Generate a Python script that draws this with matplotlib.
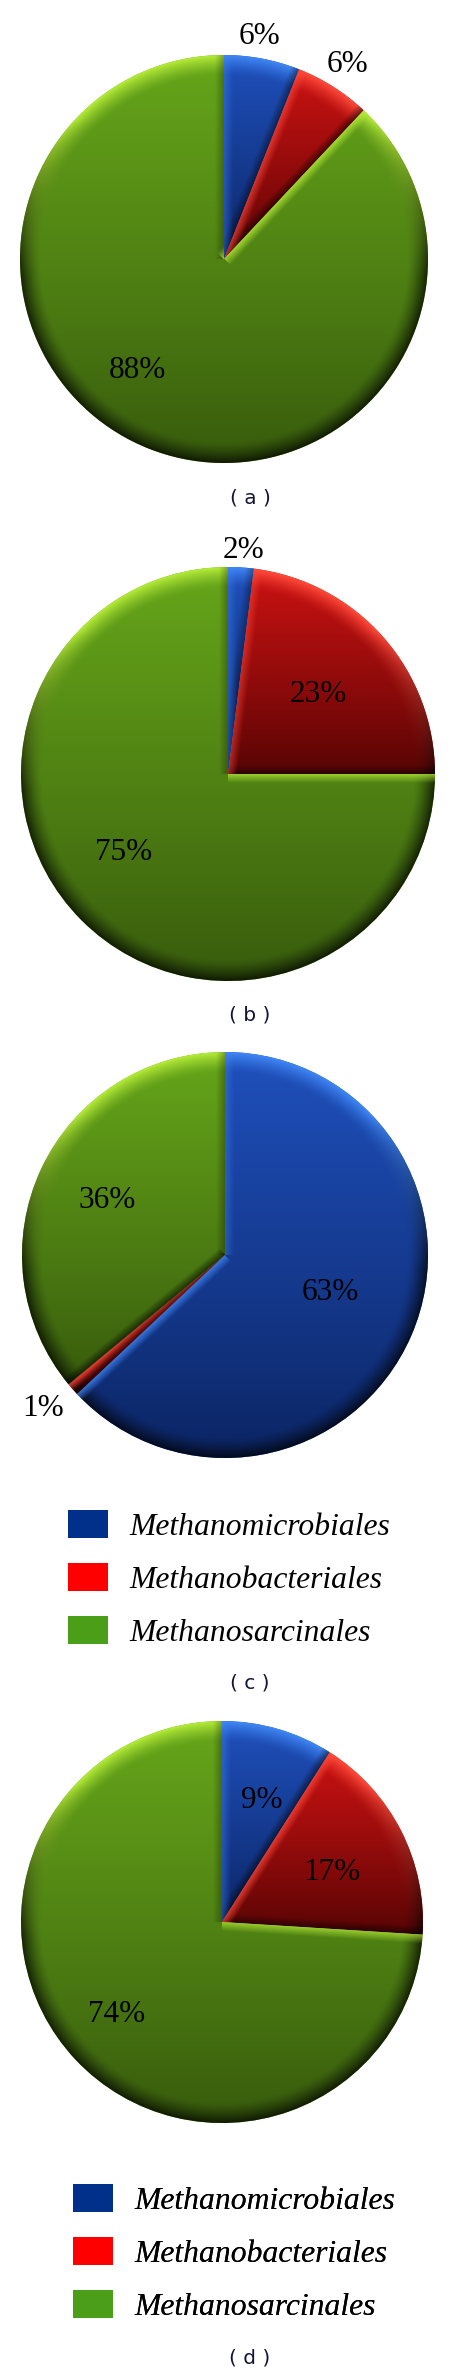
"""메탄생성균 목(order) 비율 파이 4개 (a)-(d) + 범례 — 3D 느낌 음영 포함."""

import numpy as np
import matplotlib

matplotlib.use("Agg")
import matplotlib.pyplot as plt
from matplotlib.colors import to_rgb
from matplotlib.patches import Patch

W, H = 457, 2374
DPI = 100

ORDERS = ["Methanomicrobiales", "Methanobacteriales", "Methanosarcinales"]
PANELS = ["a", "b", "c", "d"]
SHARE_A = [6, 6, 88]
SHARE_B = [2, 23, 75]
SHARE_C = [63, 1, 36]
SHARE_D = [9, 17, 74]
SHARES = [SHARE_A, SHARE_B, SHARE_C, SHARE_D]

# 쐐기 색: 위(밝음) / 아래(어두움) / 하이라이트
LIGHT = ["#1f50bc", "#cc1212", "#66a61a"]
DARK = ["#0b2462", "#560404", "#375a0c"]
RIM = ["#3f86f4", "#ff4a3a", "#b4ea38"]
LEGEND_COL = ["#00308a", "#ff0000", "#4a9e18"]

SERIF = "Liberation Serif"
LIGHT_DIR = np.array([0.5, -0.866])   # 모서리 빛 방향 (안쪽 법선과 내적)

# 배치 (픽셀, 위에서부터 잰 값)
LAYOUT = {
    "a": dict(center=(224, 259), r=204, labels=[(260, 37), (348, 64), (137, 370)],
              cap=(250, 498), legend=None),
    "b": dict(center=(228, 774), r=207, labels=[(243, 550), (318, 695), (124, 853)],
              cap=(250, 1015), legend=None),
    "c": dict(center=(225, 1255), r=203, labels=[(330, 1292), (43, 1408), (107, 1201)],
              cap=(250, 1683), legend=(68, 1579)),
    "d": dict(center=(222, 1922), r=201, labels=[(262, 1800), (332, 1873), (117, 2015)],
              cap=(250, 2358), legend=(73, 2253)),
}


def _shade(wedge, r, light, dark, rim, n=420, bevel=9.0):
    """쐐기 하나의 음영 이미지 (쐐기 높이 기준 세로 그라데이션 + 테두리/모서리 베벨)."""
    u = np.linspace(-r, r, n)
    X, Y = np.meshgrid(u, u)          # 중심 기준 좌표, origin="lower"
    rho = np.hypot(X, Y) / r
    L, D, R = (np.array(to_rgb(c)) for c in (light, dark, rim))

    th = np.radians(np.linspace(wedge.theta1, wedge.theta2, 200))
    ys = np.concatenate([[0.0], r * np.sin(th)])
    y0, y1 = ys.min(), ys.max()
    t = np.clip((Y - y0) / max(y1 - y0, 1e-6), 0, 1) ** 0.9
    img = D + (L - D) * t[..., None]

    # 바깥 둘레: 위쪽은 밝게, 아래쪽은 어둡게
    s = np.clip((rho - 0.9) / 0.1, 0, 1) ** 1.4
    up = np.clip(Y / r * 1.3 + 0.1, 0, 1)
    hi = (s * up)[..., None]
    img = img * (1 - hi) + R * hi
    lo = (s * (1 - up) * 0.7)[..., None]
    img = img * (1 - lo)

    # 반지름 모서리 베벨
    a1, a2 = np.radians(wedge.theta1), np.radians(wedge.theta2)
    edges = [(np.array([np.cos(a1), np.sin(a1)]), np.array([-np.sin(a1), np.cos(a1)])),
             (np.array([np.cos(a2), np.sin(a2)]), np.array([np.sin(a2), -np.cos(a2)]))]
    for dvec, nvec in edges:
        d = X * nvec[0] + Y * nvec[1]
        along = X * dvec[0] + Y * dvec[1]
        b = np.clip(1 - np.abs(d) / bevel, 0, 1) * (along > 0)
        k = float(nvec @ LIGHT_DIR)
        if k > 0:
            m = (b * k * 0.85)[..., None]
            img = img * (1 - m) + R * m
        else:
            m = (b * -k * 0.6)[..., None]
            img = img * (1 - m)
    return np.clip(img, 0, 1)


def main() -> None:
    fig = plt.figure(figsize=(W / DPI, H / DPI), dpi=DPI)
    ax = fig.add_axes([0, 0, 1, 1])

    for key, vals in zip(PANELS, SHARES):
        lay = LAYOUT[key]
        cx, cy = lay["center"][0], H - lay["center"][1]
        r = lay["r"]
        wedges, _ = ax.pie(vals, center=(cx, cy), radius=r, startangle=90,
                           counterclock=False, colors=LIGHT, frame=True,
                           wedgeprops=dict(linewidth=0))
        for w, lc, dc, rc in zip(wedges, LIGHT, DARK, RIM):
            im = ax.imshow(_shade(w, r, lc, dc, rc), extent=(cx - r, cx + r, cy - r, cy + r),
                           origin="lower", interpolation="bilinear", zorder=2)
            im.set_clip_path(w)

        for v, (px, py) in zip(vals, lay["labels"]):
            ax.text(px, H - py, f"{v}%", ha="center", va="center",
                    fontsize=22.5, family=SERIF, zorder=5)

        ax.text(lay["cap"][0], H - lay["cap"][1], f"( {key} )", ha="center", va="center",
                fontsize=14.5, color="#14143a", zorder=5)

        if lay["legend"] is not None:
            lx, ly = lay["legend"]
            handles = [Patch(facecolor=c, edgecolor="none") for c in LEGEND_COL]
            leg = ax.legend(handles, ORDERS, loc="center left",
                            bbox_to_anchor=(lx, H - ly), bbox_transform=ax.transData,
                            frameon=False,
                            prop=dict(family=SERIF, style="italic", size=22.8),
                            handlelength=1.26, handleheight=0.98, handletextpad=0.69,
                            labelspacing=0.66, borderpad=0, borderaxespad=0)
            ax.add_artist(leg)

    ax.set_xlim(0, W)
    ax.set_ylim(0, H)
    ax.set_aspect("auto")
    ax.axis("off")
    fig.savefig("out.png", dpi=DPI)
    plt.close(fig)


if __name__ == "__main__":
    main()
